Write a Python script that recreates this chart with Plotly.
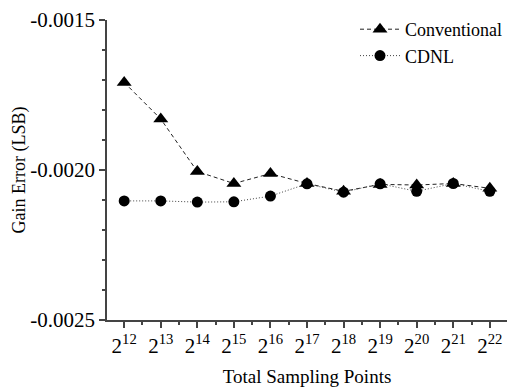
import plotly.graph_objects as go

exponents = [12, 13, 14, 15, 16, 17, 18, 19, 20, 21, 22]
tick_labels = [f"2<sup>{e}</sup>" for e in exponents]
conventional = [-0.001708, -0.00183, -0.002005, -0.002045, -0.002012, -0.002045,
                -0.002071, -0.002048, -0.00205, -0.002045, -0.002061]
cdnl = [-0.002103, -0.002103, -0.002107, -0.002106, -0.002087, -0.002046,
        -0.002074, -0.002046, -0.002071, -0.002045, -0.002071]
y_ticks = [-0.0025, -0.0020, -0.0015]
y_tick_labels = ["-0.0025", "-0.0020", "-0.0015"]
x_minor = [11.5 + 0.5 * i for i in range(23)]
y_minor = [-0.0025 + 0.0001 * i for i in range(11)]

font = "Liberation Serif"

fig = go.Figure()
fig.add_trace(go.Scatter(
    x=exponents, y=conventional, name="Conventional", mode="lines+markers",
    line=dict(color="#222", width=1, dash="4px,3px"),
    marker=dict(symbol="triangle-up", size=13, color="black"),
))
fig.add_trace(go.Scatter(
    x=exponents, y=cdnl, name="CDNL", mode="lines+markers",
    line=dict(color="#444", width=1, dash="1px,2px"),
    marker=dict(symbol="circle", size=11, color="black"),
))

fig.update_layout(
    width=509, height=387,
    margin=dict(l=107, r=2, t=20, b=64),
    paper_bgcolor="white", plot_bgcolor="white",
    font=dict(family=font, color="black"),
    showlegend=True,
    legend=dict(x=1.0, y=1.03, xanchor="right", yanchor="top",
                font=dict(family=font, size=18), bgcolor="rgba(0,0,0,0)",
                itemwidth=40, tracegroupgap=0),
)
fig.update_xaxes(
    range=[11.53, 22.47], tickmode="array", tickvals=exponents, ticktext=tick_labels,
    showgrid=False, zeroline=False, showline=True, linecolor="#444", linewidth=1.5,
    ticks="outside", ticklen=6, tickwidth=1.5, tickcolor="#444",
    tickfont=dict(family=font, size=21),
    minor=dict(tickmode="array", tickvals=x_minor, ticks="outside", ticklen=3,
               tickwidth=1.5, tickcolor="#444", showgrid=False),
    title=dict(text="Total Sampling Points", font=dict(family=font, size=19), standoff=14),
)
fig.update_yaxes(
    range=[-0.0025, -0.0015], tickmode="array", tickvals=y_ticks, ticktext=y_tick_labels,
    showgrid=False, zeroline=False, showline=True, linecolor="#444", linewidth=1.5,
    ticks="outside", ticklen=6, tickwidth=1.5, tickcolor="#444",
    tickfont=dict(family=font, size=21),
    minor=dict(tickmode="array", tickvals=y_minor, ticks="outside", ticklen=3,
               tickwidth=1.5, tickcolor="#444", showgrid=False),
    title=dict(text="Gain Error (LSB)", font=dict(family=font, size=18), standoff=0),
)

fig.write_html("out.html")
